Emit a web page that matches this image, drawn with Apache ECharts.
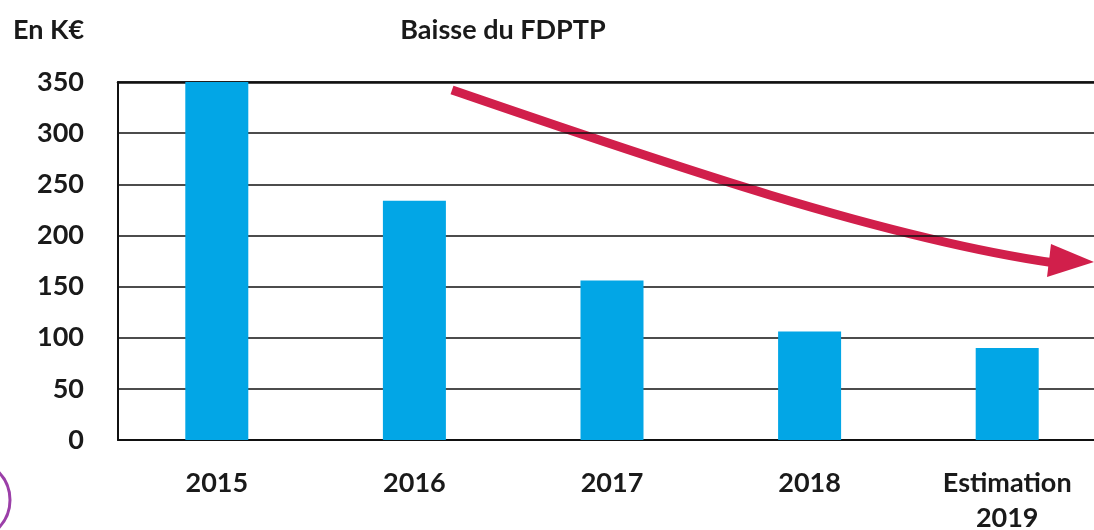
<!DOCTYPE html>
<html>
<head>
<meta charset="utf-8">
<script src="https://cdn.jsdelivr.net/npm/echarts@6/dist/echarts.min.js"></script>
<style>
html,body{margin:0;padding:0;background:#fff;}
#chart{width:1094px;height:530px;}
</style>
</head>
<body>
<div id="chart"></div>
<script>
const categories = ['2015', '2016', '2017', '2018', 'Estimation\n2019'];
const values = [350, 234, 156, 106, 90];
const yTicks = [0, 50, 100, 150, 200, 250, 300, 350];
const titleText = 'Baisse du FDPTP';
const unitText = 'En K€';

const FONT = 'Lato, "Open Sans", sans-serif';
const chart = echarts.init(document.getElementById('chart'), null, {renderer: 'canvas'});
chart.setOption({
  animation: false,
  backgroundColor: '#ffffff',
  title: [
    {text: titleText, left: 498, textAlign: 'center', top: 12,
     textStyle: {fontFamily: FONT, fontSize: 27, fontWeight: 'bold', color: '#1a1a1a'}},
    {text: unitText, left: 8, top: 12,
     textStyle: {fontFamily: FONT, fontSize: 27, fontWeight: 'bold', color: '#1a1a1a'}}
  ],
  grid: {left: 118, right: -12, top: 82, bottom: 90, outerBoundsMode: 'none', containLabel: false},
  xAxis: [{
    type: 'category',
    data: categories,
    axisLine: {show: true, lineStyle: {color: '#111', width: 2}},
    axisTick: {show: false},
    axisLabel: {fontFamily: FONT, fontSize: 27, fontWeight: 'bold', color: '#1a1a1a', margin: 26, lineHeight: 35}
  }, {
    type: 'category',
    position: 'top',
    data: categories,
    axisLine: {show: true, lineStyle: {color: '#111', width: 2.5}},
    axisTick: {show: false},
    axisLabel: {show: false}
  }],
  yAxis: {
    type: 'value',
    min: yTicks[0],
    max: yTicks[yTicks.length - 1],
    interval: yTicks[1] - yTicks[0],
    axisLine: {show: true, lineStyle: {color: '#111', width: 2}},
    axisTick: {show: false},
    splitLine: {show: true, lineStyle: {color: '#111', width: 1.5}},
    axisLabel: {fontFamily: FONT, fontSize: 27, fontWeight: 'bold', color: '#1a1a1a', margin: 34}
  },
  series: [{
    type: 'bar',
    data: values,
    barWidth: 63,
    itemStyle: {color: '#02A6E6'}
  }],
  graphic: [
    {type: 'bezierCurve', silent: true,
     shape: {x1: 452, y1: 90, cpx1: 650, cpy1: 158, cpx2: 880, cpy2: 238, x2: 1055, y2: 263},
     style: {stroke: '#D11F4B', lineWidth: 9, fill: null}},
    {type: 'polygon', silent: true,
     shape: {points: [[1094, 262], [1051, 244], [1047, 277]]},
     style: {fill: '#D11F4B'}},
    {type: 'circle', silent: true,
     shape: {cx: -30, cy: 500, r: 40},
     style: {stroke: '#9B3FA8', lineWidth: 3, fill: null}}
  ]
});
</script>
</body>
</html>
